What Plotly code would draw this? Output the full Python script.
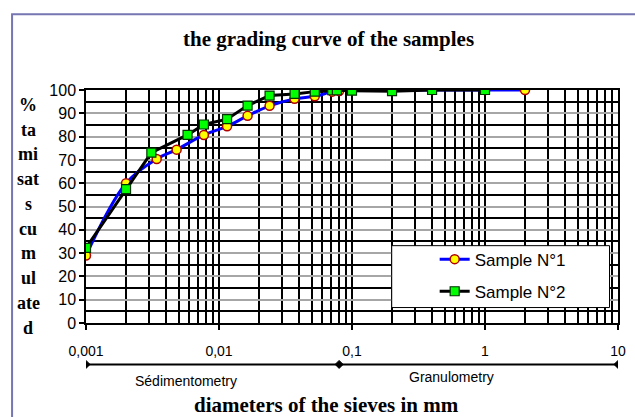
import plotly.graph_objects as go
import math

# ---------------- data ----------------
s1_d = [0.001, 0.002, 0.0034, 0.0048, 0.0077, 0.0115, 0.0164, 0.024, 0.037, 0.0525,
        0.071, 0.08, 0.1, 0.2, 0.4, 1, 2]
s1_p = [29, 60, 70.4, 74.4, 80.7, 84.4, 88.9, 93.2, 96.2, 97.3,
        99.3, 99.6, 100, 100, 100, 100, 100]

s2_d = [0.001, 0.002, 0.0031, 0.0058, 0.0077, 0.0115, 0.0164, 0.024, 0.037, 0.0525,
        0.071, 0.077, 0.1, 0.2, 0.4, 1]
s2_p = [32.2, 57.5, 73.1, 80.7, 85.2, 87.5, 93.3, 97.6, 98.3, 99.3,
        99.9, 99.9, 99.7, 99.5, 100, 100]

x_tickvals = [0.001, 0.01, 0.1, 1, 10]
x_ticktext = ["0,001", "0,01", "0,1", "1", "10"]
y_tickvals = list(range(0, 101, 10))

zone_bounds = [0.001, 0.08, 10]
zone_labels = ["Sédimentometry", "Granulometry"]
zone_label_pos = [0.00564, 0.562]

title_text = "the grading curve of the samples"
xtitle_text = "diameters of the sieves in mm"
ytitle_words = ["%", "ta", "mi", "sat", "s", "cu", "m", "ul", "ate", "d"]

# ---------------- geometry (pixels) ----------------
W, H = 635, 417
L, R = 86, 618.5
T, B = 90, 323.5
pw, ph = R - L, B - T


def px(x):
    return (x - L) / pw


def py(y):
    return (B - y) / ph


fig = go.Figure()

fig.add_trace(go.Scatter(
    x=s1_d, y=s1_p, name="Sample N°1", mode="lines+markers",
    line=dict(color="#0000FF", width=3, shape="spline", smoothing=1),
    marker=dict(symbol="circle", size=9, color="#FFFF00",
                line=dict(color="#B00000", width=1.5)),
    legendgroup="s1"))

fig.add_trace(go.Scatter(
    x=s2_d, y=s2_p, name="Sample N°2", mode="lines+markers",
    line=dict(color="#000000", width=3),
    marker=dict(symbol="square", size=9, color="#00FF00",
                line=dict(color="#003300", width=1.2)),
    legendgroup="s2"))

shapes = []
# outer frame
shapes.append(dict(type="rect", xref="paper", yref="paper",
                   x0=px(12), x1=px(660), y0=py(14), y1=py(450),
                   line=dict(color="#7676B2", width=2), layer="below"))
# bracket line
bracket_y = py(365)
shapes.append(dict(type="line", xref="x", yref="paper",
                   x0=zone_bounds[0], x1=zone_bounds[-1], y0=bracket_y, y1=bracket_y,
                   line=dict(color="black", width=2)))
# bracket diamonds (anchored at the zone bounds, sized in pixels)
for b in zone_bounds:
    shapes.append(dict(type="path", xref="x", yref="paper",
                       xsizemode="pixel", ysizemode="pixel",
                       xanchor=b, yanchor=bracket_y,
                       path="M-4,0 L0,4 L4,0 L0,-4 Z",
                       fillcolor="black", line=dict(color="black", width=1)))
# legend box
shapes.append(dict(type="rect", xref="paper", yref="paper",
                   x0=px(392), x1=px(610), y0=py(246), y1=py(308),
                   line=dict(color="black", width=1), fillcolor="white",
                   layer="above"))

annotations = []
annotations.append(dict(text="<b>" + title_text + "</b>", xref="paper", yref="paper",
                        x=px(329), y=py(39), showarrow=False,
                        xanchor="center", yanchor="middle",
                        font=dict(family="Liberation Serif", size=21, color="black")))
annotations.append(dict(text="<b>" + xtitle_text + "</b>", xref="paper", yref="paper",
                        x=px(326.5), y=py(406), showarrow=False,
                        xanchor="center", yanchor="middle",
                        font=dict(family="Liberation Serif", size=21, color="black")))
for i, w in enumerate(ytitle_words):
    annotations.append(dict(text="<b>" + w + "</b>", xref="paper", yref="paper",
                            x=px(28), y=py(105 + i * 24.8), showarrow=False,
                            xanchor="center", yanchor="middle",
                            font=dict(family="Liberation Serif", size=18, color="black")))
label_y = [381.5, 378]
for lab, pos, yy in zip(zone_labels, zone_label_pos, label_y):
    annotations.append(dict(text=lab, xref="x", yref="paper",
                            x=math.log10(pos), y=py(yy), showarrow=False,
                            xanchor="center", yanchor="middle",
                            font=dict(family="Liberation Sans", size=14, color="black")))

fig.update_layout(
    width=W, height=H,
    margin=dict(l=L, r=W - R, t=T, b=H - B, pad=0),
    paper_bgcolor="white", plot_bgcolor="white",
    shapes=shapes, annotations=annotations,
    font=dict(family="Liberation Sans", color="black"),
    showlegend=True,
    legend=dict(x=px(435), y=py(276), xanchor="left", yanchor="middle",
                bgcolor="rgba(0,0,0,0)", borderwidth=0,
                tracegroupgap=7, traceorder="grouped",
                font=dict(family="Liberation Sans", size=17, color="black")),
)

fig.update_xaxes(
    type="log", range=[-3, 1],
    tickvals=x_tickvals, ticktext=x_ticktext,
    ticks="outside", ticklen=5, tickwidth=1.5, tickcolor="black",
    tickfont=dict(family="Liberation Sans", size=14, color="black"),
    ticklabelstandoff=9,
    showgrid=True, gridcolor="black", gridwidth=1.5,
    minor=dict(dtick="D1", showgrid=True, gridcolor="black", gridwidth=1.5, ticks=""),
    showline=True, linecolor="black", linewidth=1.5, mirror=True,
    zeroline=False, automargin=False,
)
fig.update_yaxes(
    range=[0, 100], tickvals=y_tickvals,
    ticks="outside", ticklen=5, tickwidth=1.5, tickcolor="black",
    tickfont=dict(family="Liberation Sans", size=16, color="black"),
    showgrid=True, gridcolor="#A6A6A6", gridwidth=2,
    minor=dict(dtick=5, showgrid=True, gridcolor="black", gridwidth=1.5, ticks=""),
    showline=True, linecolor="black", linewidth=1.5, mirror=True,
    zeroline=False, automargin=False,
)

fig.write_html("out.html", config={"displayModeBar": False},
               post_script="document.body.style.margin='0';document.body.style.overflow='hidden';")
